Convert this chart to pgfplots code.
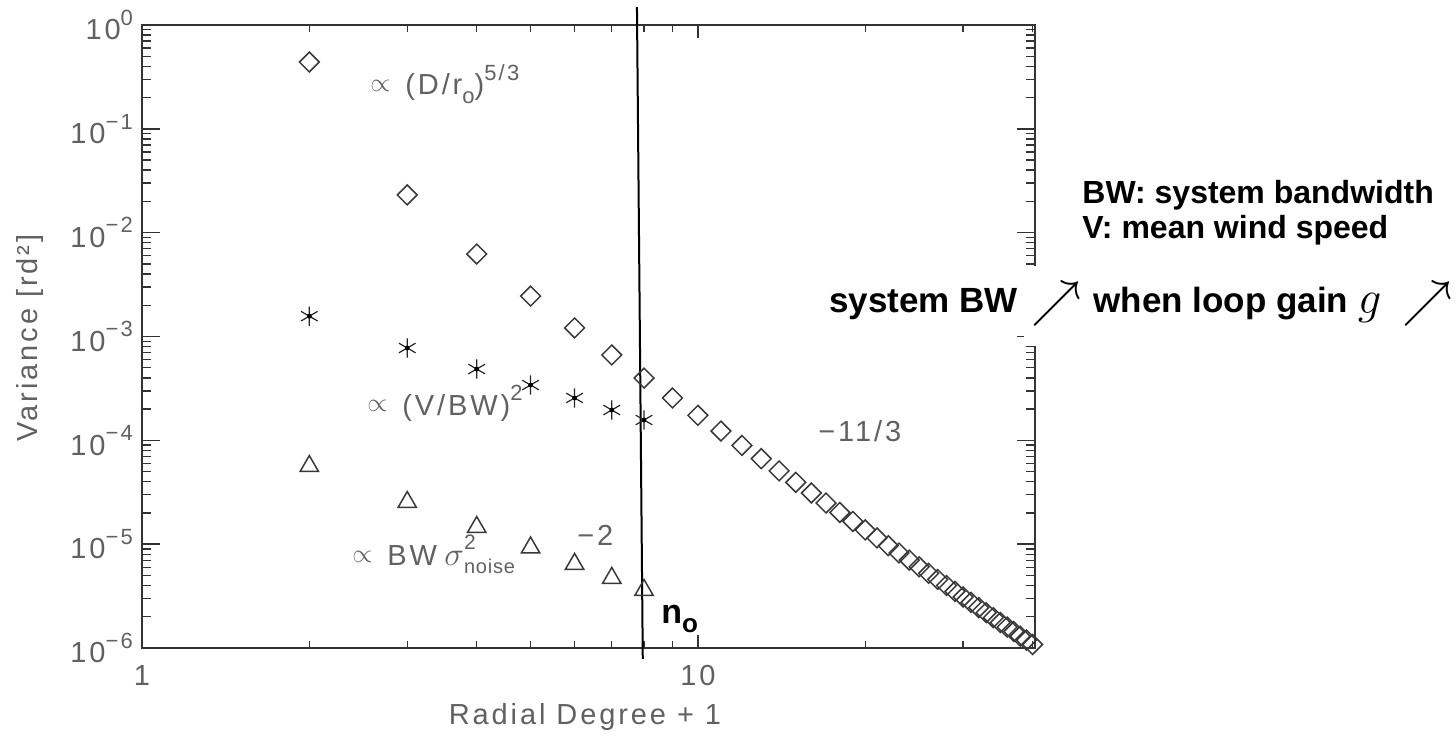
\documentclass[border=0pt]{standalone}
\usepackage{pgfplots}
\usepackage{pgfplotstable}
\pgfplotsset{compat=1.18}
\usepackage{fontspec}
\usepackage{graphicx}
\setmainfont{Liberation Sans}
\newfontfamily\idl{Liberation Sans}[LetterSpace=10]
\definecolor{idlgray}{gray}{0.38}
\definecolor{markgray}{gray}{0.22}
\newcommand{\ann}{\idl\fontsize{14.5}{16}\selectfont\color{idlgray}}
\newcommand{\prop}{\scalebox{0.9}{$\propto$}}
\newcommand{\up}[1]{\raisebox{0.5em}{\fontsize{11}{12}\selectfont #1}}
\newcommand{\dn}[1]{\raisebox{-0.28em}{\fontsize{11}{12}\selectfont #1}}
\newcommand{\tk}[1]{10\raisebox{0.5em}{\fontsize{11}{12}\selectfont #1}}

\pgfplotstableread{
n v
2 0.44
3 0.0231
4 6.23e-3
5 2.45e-3
6 1.21e-3
7 6.64e-4
8 3.98e-4
9 2.56e-4
10 1.74e-4
11 1.229e-4
12 8.93e-5
13 6.66e-5
14 5.08e-5
15 3.94e-5
16 3.11e-5
17 2.49e-5
18 2.02e-5
19 1.656e-5
20 1.372e-5
21 1.148e-5
22 9.67e-6
23 8.22e-6
24 7.03e-6
25 6.05e-6
26 5.24e-6
27 4.57e-6
28 4.00e-6
29 3.51e-6
30 3.10e-6
31 2.75e-6
32 2.45e-6
33 2.19e-6
34 1.96e-6
35 1.76e-6
36 1.59e-6
37 1.44e-6
38 1.30e-6
39 1.19e-6
40 1.08e-6
}\diam

\pgfplotstableread{
n v
2 1.57e-3
3 7.75e-4
4 4.86e-4
5 3.41e-4
6 2.56e-4
7 1.96e-4
8 1.57e-4
}\aster

\pgfplotstableread{
n v
2 5.64e-5
3 2.54e-5
4 1.46e-5
5 9.27e-6
6 6.44e-6
7 4.72e-6
8 3.61e-6
}\tri

\begin{document}
\begin{tikzpicture}
\begin{scope}[x=0.5pt,y=-0.5pt,shift={(-71pt,324pt)}]
\useasboundingbox (0,0) rectangle (1456,734);
\end{scope}
\begin{axis}[
  at={(0pt,0pt)}, anchor=south west,
  scale only axis, width=446.5pt, height=311.5pt,
  xmode=log, ymode=log,
  xmin=1, xmax=40.4, ymin=1e-6, ymax=1,
  clip=false,
  axis line style={black!80, line width=0.9pt},
  tick style={black!80, line width=0.7pt},
  tick align=inside,
  xtick={1,10}, xticklabels={1,10},
  minor xtick={2,3,4,5,6,7,8,9,20,30,40},
  ytick={1e-6,1e-5,1e-4,1e-3,1e-2,1e-1,1},
  yticklabels={\tk{−6},\tk{−5},\tk{−4},\tk{−3},\tk{−2},\tk{−1},\tk{0}},
  minor ytick={2e-6,3e-6,4e-6,5e-6,6e-6,7e-6,8e-6,9e-6,
               2e-5,3e-5,4e-5,5e-5,6e-5,7e-5,8e-5,9e-5,
               2e-4,3e-4,4e-4,5e-4,6e-4,7e-4,8e-4,9e-4,
               2e-3,3e-3,4e-3,5e-3,6e-3,7e-3,8e-3,9e-3,
               2e-2,3e-2,4e-2,5e-2,6e-2,7e-2,8e-2,9e-2,
               2e-1,3e-1,4e-1,5e-1,6e-1,7e-1,8e-1,9e-1},
  xtick style={/pgfplots/major tick length=6.5pt,/pgfplots/minor tick length=3.5pt},
  ytick style={/pgfplots/major tick length=9pt,/pgfplots/minor tick length=4.5pt},
  ticklabel style={font=\idl\fontsize{14.5}{16}\selectfont, text=idlgray},
  xticklabel style={yshift=-5pt},
  yticklabel style={xshift=-1pt},
]
\addplot[only marks, mark=square, mark size=3.5pt,
  mark options={rotate=45, draw=markgray, line width=0.75pt, fill=none}]
  table[x=n, y=v] {\diam};
\addplot[only marks, mark=asterisk, mark size=4.8pt,
  mark options={draw=black!85, line width=0.6pt}]
  table[x=n, y=v] {\aster};
\addplot[only marks, mark=*, mark size=1pt,
  mark options={draw=black, fill=black}]
  table[x=n, y=v] {\aster};
\addplot[only marks, mark=triangle, mark size=5.3pt,
  mark options={draw=markgray, line width=0.75pt, fill=none}]
  table[x=n, y=v] {\tri};
\addplot[black, line width=1pt] coordinates {(7.77,1.49) (7.96,7.87e-7)};
\end{axis}
\begin{scope}[x=0.5pt,y=-0.5pt,shift={(-71pt,324pt)}]
% axis labels
\node[inner sep=0] at (585,717) {\idl\fontsize{14.5}{16}\selectfont\color{idlgray} Radial Degree + 1};
\node[inner sep=0, rotate=90] at (30,338) {\idl\fontsize{14.5}{16}\selectfont\color{idlgray} Variance [rd²]};
% annotations
\node[anchor=base west, inner sep=0] at (370,92) {\ann \prop};
\node[anchor=base west, inner sep=0] at (405,95) {\ann (D/r\dn{o})\up{5/3}};
\node[anchor=base west, inner sep=0] at (367,412) {\ann \prop};
\node[anchor=base west, inner sep=0] at (402,415) {\ann (V/BW)\up{2}};
\node[anchor=base west, inner sep=0] at (352,562) {\ann \prop};
\node[anchor=base west, inner sep=0] at (387,565) {\ann BW};
\node[anchor=base west, inner sep=0] at (444,565) {\ann \scalebox{1.15}{$\sigma$}\rlap{\raisebox{0.55em}{\fontsize{10.5}{11}\selectfont 2}}\raisebox{-0.3em}{\idl\fontsize{10}{11}\selectfont\addfontfeature{LetterSpace=4}noise}};
\node[anchor=base west, inner sep=0] at (577,545) {\ann −2};
\node[anchor=base west, inner sep=0] at (818,442) {\ann −11/3};
\node[anchor=base west, inner sep=0] at (661,623) {\fontsize{17}{17}\selectfont\bfseries n\raisebox{-4.5pt}{\fontsize{13}{13}\selectfont o}};
% right side text
\node[anchor=base west, inner sep=0] at (1082,204) {\fontsize{16}{17}\selectfont\bfseries BW: system bandwidth};
\node[anchor=base west, inner sep=0] at (1082,239) {\fontsize{16}{17}\selectfont\bfseries V: mean wind speed};
\fill[white] (1024,266) rectangle (1048,346);
\node[anchor=base west, inner sep=0] at (829,313) {\fontsize{17.5}{20}\selectfont\bfseries system BW};
\node[inner sep=0] at (1057,304) {\scalebox{1.45}{\fontsize{17.28}{20}\selectfont$\nearrow$}};
\node[anchor=base west, inner sep=0] at (1093,313) {\fontsize{17.5}{20}\selectfont\bfseries when loop gain \scalebox{1.35}{$g$}};
\node[inner sep=0] at (1428,304) {\scalebox{1.45}{\fontsize{17.28}{20}\selectfont$\nearrow$}};
\end{scope}
\end{tikzpicture}
\end{document}
